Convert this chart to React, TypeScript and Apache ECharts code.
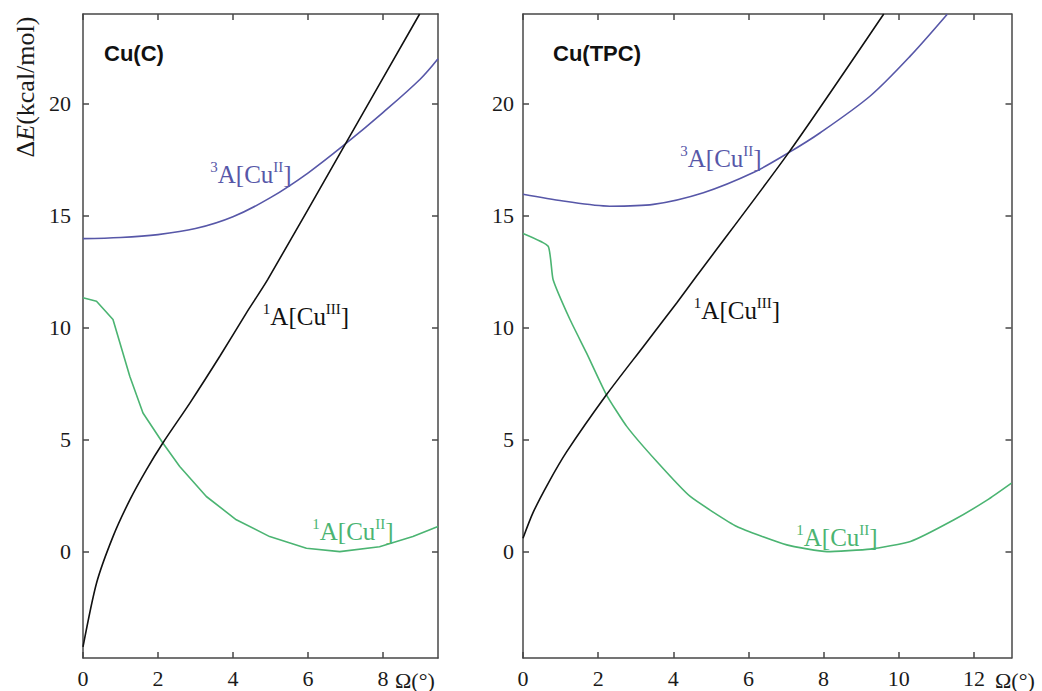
import React, { useEffect, useRef } from "react";
import * as echarts from "echarts";

// ---------- data ----------
// Left panel: Cu(C)
const leftBlackX = [0, 0.36, 0.8, 1.25, 1.69, 2.13, 2.85, 3.65, 4.36, 4.93, 7.02, 8.98];
const leftBlackY = [-4.25, -1.41, 0.67, 2.31, 3.65, 4.85, 6.63, 8.72, 10.66, 12.15, 18.26, 24.0];

const leftBlueX = [0, 1, 2, 3, 4, 5, 6, 7, 8, 9, 9.47];
const leftBlueY = [13.97, 14.02, 14.15, 14.42, 14.95, 15.8, 16.9, 18.2, 19.6, 21.1, 22.0];

const leftGreenX = [0, 0.36, 0.8, 1.25, 1.6, 2.13, 2.58, 3.29, 4.09, 4.98, 5.96, 6.85, 7.91, 8.8, 9.47];
const leftGreenY = [11.33, 11.18, 10.36, 7.82, 6.19, 4.85, 3.8, 2.46, 1.42, 0.67, 0.15, 0.0, 0.22, 0.67, 1.12];

// Right panel: Cu(TPC)
const rightBlackX = [0, 0.27, 0.67, 1.16, 2.22, 3.2, 4.09, 4.62, 7.07, 9.6];
const rightBlackY = [0.6, 1.75, 3.05, 4.45, 7.0, 9.15, 11.1, 12.3, 17.81, 24.0];

const rightBlueX = [0, 1.07, 2.31, 3.47, 4.8, 6.13, 7.07, 7.91, 9.24, 10.31, 11.29];
const rightBlueY = [15.95, 15.65, 15.42, 15.5, 16.02, 16.92, 17.81, 18.7, 20.34, 22.13, 23.99];

const rightGreenX = [0, 0.67, 0.8, 1.25, 1.69, 2.22, 2.76, 3.56, 4.45, 5.69, 7.02, 8.09, 9.24, 10.31, 11.47, 12.36, 13.0];
const rightGreenY = [14.2, 13.63, 12.15, 10.36, 8.87, 7.0, 5.59, 4.02, 2.46, 1.12, 0.3, 0.0, 0.11, 0.45, 1.42, 2.31, 3.06];

// ticks
const yTicks = [0, 5, 10, 15, 20];
const leftXTicks = [0, 2, 4, 6, 8];
const rightXTicks = [0, 2, 4, 6, 8, 10, 12];
const Y_MIN = -4.75;
const Y_MAX = 24;
const LEFT_X_MAX = 9.47;
const RIGHT_X_MAX = 13;

// ---------- styles ----------
const SERIF = "'Liberation Serif', 'Times New Roman', serif";
const SANS = "'Liberation Sans', Arial, sans-serif";
const AXIS_COLOR = "#474747";
const BLUE = "#5757a8";
const GREEN = "#4bb472";
const BLACK = "#111111";

const zip = (xs: number[], ys: number[]) => xs.map((x, i) => [x, ys[i]]);

function xAxis(grid: number, max: number, ticks: number[], position: "bottom" | "top") {
  return {
    type: "value",
    gridIndex: grid,
    position,
    min: 0,
    max,
    axisLine: { show: true, onZero: false, lineStyle: { color: AXIS_COLOR, width: 1.5 } },
    axisTick: { show: true, inside: true, length: 6, customValues: ticks, lineStyle: { color: AXIS_COLOR, width: 1.5 } },
    axisLabel:
      position === "bottom"
        ? { show: true, customValues: ticks, fontSize: 22, fontFamily: SERIF, color: "#1a1a1a", margin: 9 }
        : { show: false },
    splitLine: { show: false },
  };
}

function yAxis(grid: number, position: "left" | "right", margin: number) {
  return {
    type: "value",
    gridIndex: grid,
    position,
    min: Y_MIN,
    max: Y_MAX,
    axisLine: { show: true, onZero: false, lineStyle: { color: AXIS_COLOR, width: 1.5 } },
    axisTick: { show: true, inside: true, length: 6, customValues: yTicks, lineStyle: { color: AXIS_COLOR, width: 1.5 } },
    axisLabel:
      position === "left"
        ? { show: true, customValues: yTicks, fontSize: 22, fontFamily: SERIF, color: "#1a1a1a", margin }
        : { show: false },
    splitLine: { show: false },
  };
}

function line(xi: number, data: number[][], color: string, smooth: number | boolean) {
  return {
    type: "line",
    xAxisIndex: xi,
    yAxisIndex: xi,
    data,
    showSymbol: false,
    symbol: "none",
    smooth,
    clip: true,
    lineStyle: { color, width: 1.6 },
    emphasis: { disabled: true },
  };
}

function stateLabel(x: number, y: number, mult: string, ox: string, color: string) {
  return {
    type: "text",
    x,
    y,
    style: {
      text: `{s|${mult}}{n|A[Cu}{s|${ox}}{n|]}`,
      align: "center",
      verticalAlign: "middle",
      rich: {
        n: { fontSize: 25, fontFamily: SERIF, fill: color, lineHeight: 28, verticalAlign: "bottom" },
        s: { fontSize: 15, fontFamily: SERIF, fill: color, lineHeight: 15, verticalAlign: "top" },
      },
    },
  };
}

export default function App() {
  const ref = useRef<HTMLDivElement>(null);

  useEffect(() => {
    if (!ref.current) return;
    const chart = echarts.init(ref.current, null, { renderer: "svg" });
    const option: any = {
      animation: false,
      backgroundColor: "#ffffff",
      grid: [
        { left: 83, top: 14, width: 355, height: 644, containLabel: false, outerBoundsMode: "none" },
        { left: 523, top: 14, width: 488.5, height: 644, containLabel: false, outerBoundsMode: "none" },
      ],
      xAxis: [
        xAxis(0, LEFT_X_MAX, leftXTicks, "bottom"),
        xAxis(0, LEFT_X_MAX, leftXTicks, "top"),
        xAxis(1, RIGHT_X_MAX, rightXTicks, "bottom"),
        xAxis(1, RIGHT_X_MAX, rightXTicks, "top"),
      ],
      yAxis: [
        yAxis(0, "left", 12),
        yAxis(0, "right", 12),
        yAxis(1, "left", 9),
        yAxis(1, "right", 9),
      ],
      series: [
        line(0, zip(leftBlueX, leftBlueY), BLUE, 0.35),
        line(0, zip(leftGreenX, leftGreenY), GREEN, false),
        line(0, zip(leftBlackX, leftBlackY), BLACK, 0.25),
        line(2, zip(rightBlueX, rightBlueY), BLUE, 0.3),
        line(2, zip(rightGreenX, rightGreenY), GREEN, 0.15),
        line(2, zip(rightBlackX, rightBlackY), BLACK, 0.25),
      ],
      graphic: [
        {
          type: "text",
          x: 25,
          y: 87,
          rotation: Math.PI / 2,
          style: {
            text: "{n|Δ}{i|E}{n|(kcal/mol)}",
            align: "center",
            verticalAlign: "middle",
            rich: {
              n: { fontSize: 26, fontFamily: SERIF, fill: "#1a1a1a" },
              i: { fontSize: 26, fontFamily: SERIF, fontStyle: "italic", fill: "#1a1a1a" },
            },
          },
        },
        {
          type: "text",
          x: 104,
          y: 53,
          style: { text: "Cu(C)", font: `bold 22px ${SANS}`, fill: "#111", align: "left", verticalAlign: "middle" },
        },
        {
          type: "text",
          x: 553,
          y: 53,
          style: { text: "Cu(TPC)", font: `bold 22px ${SANS}`, fill: "#111", align: "left", verticalAlign: "middle" },
        },
        {
          type: "text",
          x: 395,
          y: 680,
          style: { text: "Ω(°)", font: `22px ${SERIF}`, fill: "#1a1a1a", align: "left", verticalAlign: "middle" },
        },
        {
          type: "text",
          x: 995,
          y: 680,
          style: { text: "Ω(°)", font: `22px ${SERIF}`, fill: "#1a1a1a", align: "left", verticalAlign: "middle" },
        },
        stateLabel(251, 173, "3", "II", BLUE),
        stateLabel(306, 315, "1", "III", BLACK),
        stateLabel(353, 530, "1", "II", GREEN),
        stateLabel(721, 157, "3", "II", BLUE),
        stateLabel(737, 309, "1", "III", BLACK),
        stateLabel(837, 536, "1", "II", GREEN),
      ],
    };
    chart.setOption(option);
    return () => chart.dispose();
  }, []);

  return (
    <div
      ref={ref}
      style={{ position: "fixed", left: 0, top: 0, width: 1042, height: 691, background: "#ffffff" }}
    />
  );
}
